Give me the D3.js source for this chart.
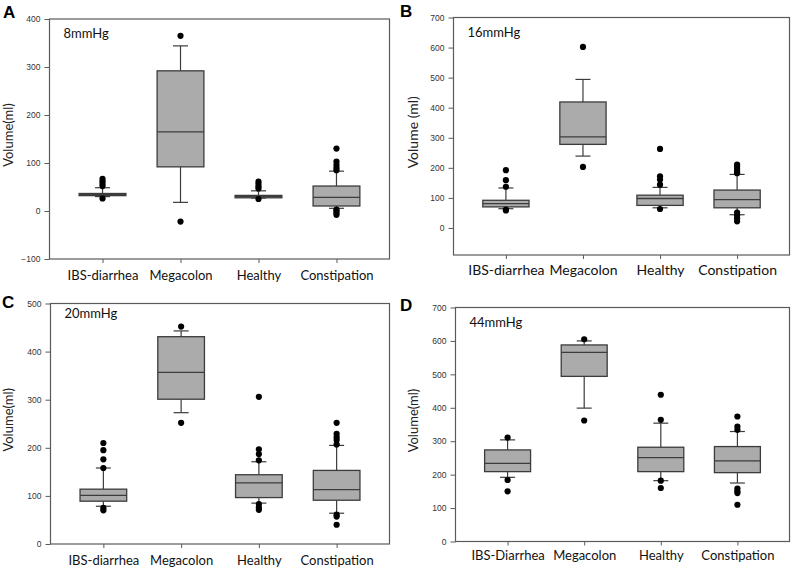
<!DOCTYPE html>
<html>
<head>
<meta charset="utf-8">
<script src="https://cdn.jsdelivr.net/npm/d3@7"></script>
<style>
  body { margin: 0; background: #fff; }
  svg { display: block; }
</style>
</head>
<body>
<div class="vis"></div>
<script>
// categories (panel D spells "Diarrhea" with a capital)
const categories = ["IBS-diarrhea", "Megacolon", "Healthy", "Constipation"];
const categoriesD = ["IBS-Diarrhea", "Megacolon", "Healthy", "Constipation"];

// box stats per category: [lower whisker, Q1, median, Q3, upper whisker]
const statsA = [[30, 32, 34.5, 36.5, 48.5], [18, 92, 165, 292, 344], [27, 27.5, 30, 32.5, 42], [5.6, 10.4, 28.5, 52, 83]];
const statsB = [[64, 70, 81, 92, 133], [239, 278, 303, 419, 494], [67, 75, 98, 109, 135], [44, 67, 94, 126, 178]];
const statsC = [[78.5, 89, 101, 114, 158], [273, 301, 357, 431, 443], [85, 96.5, 127, 144, 171], [64, 91, 113, 153, 205]];
const statsD = [[192, 209, 234, 274, 304], [399, 494, 566, 588, 600], [182, 209, 251, 282, 354], [175, 206, 241, 284, 329]];

// outliers per category
const outliersA = [[52, 57, 62, 67, 26], [365, -22], [47, 51, 56, 61, 25], [85, 90, 96, 103, 130, 3, 0, -4, -8]];
const outliersB = [[192, 159, 137, 61, 58], [602, 203], [263, 172, 161, 144, 63], [211, 204, 196, 188, 182, 51, 41, 32, 22]];
const outliersC = [[210, 195, 176, 158, 75, 70], [452, 252], [306, 197, 187, 174, 83, 76, 71], [252, 229, 222, 216, 207, 61, 57, 40]];
const outliersD = [[311, 184, 150], [605, 362], [439, 364, 182, 160], [374, 344, 334, 158, 150, 145, 110]];

// y tick values
const ticksA = [-100, 0, 100, 200, 300, 400];
const ticksB = [0, 100, 200, 300, 400, 500, 600, 700];
const ticksC = [0, 100, 200, 300, 400, 500];
const ticksD = [0, 100, 200, 300, 400, 500, 600, 700];

const panels = [
    {letter: "A", title: "8mmHg", ylabel: "Volume(ml)", cats: categories, stats: statsA, outs: outliersA, ticks: ticksA, domain: [-100, 400],
     x: 49.5, y: 19, w: 340, h: 240, letterX: 3, letterY: 18, ylabX: 13, catSize: 13, catPad: 8},
    {letter: "B", title: "16mmHg", ylabel: "Volume (ml)", cats: categories, stats: statsB, outs: outliersB, ticks: ticksB, domain: [-90, 700],
     x: 453.5, y: 17.5, w: 336, h: 237.5, letterX: 400, letterY: 17, ylabX: 418, catSize: 14, catPad: 6},
    {letter: "C", title: "20mmHg", ylabel: "Volume(ml)", cats: categories, stats: statsC, outs: outliersC, ticks: ticksC, domain: [0, 500],
     x: 50.5, y: 303.5, w: 339, h: 240.5, letterX: 2, letterY: 308, ylabX: 13, catSize: 13, catPad: 8},
    {letter: "D", title: "44mmHg", ylabel: "Volume(ml)", cats: categoriesD, stats: statsD, outs: outliersD, ticks: ticksD, domain: [0, 700],
     x: 455.5, y: 307.5, w: 334, h: 234, letterX: 400, letterY: 311, ylabX: 418, catSize: 13, catPad: 5}
];

const svg = d3.select('.vis').append('svg')
    .attr('width', 800)
    .attr('height', 569);

const frameColor = "#5a5a5a";
const boxStroke = "#3c3c3c";
const boxFill = "#ababab";

panels.forEach(p => {
    // panel letter
    svg.append("text")
        .attr("x", p.letterX)
        .attr("y", p.letterY)
        .style("font-family", "'Liberation Sans', Arial, sans-serif")
        .style("font-weight", "bold")
        .style("font-size", "17px")
        .text(p.letter);

    // y label
    svg.append("text")
        .attr("transform", "translate(" + p.ylabX + "," + (p.y + p.h / 2 - 4) + ") rotate(-90)")
        .attr("text-anchor", "middle")
        .style("font-family", "Lato, sans-serif")
        .style("font-size", p.ylabel.length > 10 ? "14px" : "13px")
        .style("fill", "#222")
        .text(p.ylabel);

    const g = svg.append("g")
        .attr("transform", "translate(" + p.x + "," + p.y + ")");

    const x = d3.scalePoint()
        .domain(p.cats)
        .range([0, p.w])
        .padding(0.68);

    const y = d3.scaleLinear()
        .domain(p.domain)
        .range([p.h, 0]);

    const bw = x.step() * 0.6;
    const cw = 15;

    // y axis
    const ya = g.append("g")
        .call(d3.axisLeft(y).tickValues(p.ticks).tickSize(5).tickPadding(4));
    ya.select(".domain").remove();
    ya.selectAll("line").attr("stroke", frameColor);
    ya.selectAll("text")
        .style("font-family", "'Liberation Sans', Arial, sans-serif")
        .style("font-size", "8.5px")
        .style("fill", "#333");

    // x axis
    const xa = g.append("g")
        .attr("transform", "translate(0," + p.h + ")")
        .call(d3.axisBottom(x).tickSize(4).tickPadding(p.catPad));
    xa.select(".domain").remove();
    xa.selectAll("line").attr("stroke", frameColor);
    xa.selectAll("text")
        .style("font-family", "Lato, sans-serif")
        .style("font-size", p.catSize + "px")
        .style("fill", "#111");

    // frame
    g.append("rect")
        .attr("width", p.w)
        .attr("height", p.h)
        .attr("fill", "none")
        .attr("stroke", frameColor)
        .attr("stroke-width", 1.2);

    // pressure label
    g.append("text")
        .attr("x", 14)
        .attr("y", p.letter === "C" ? 14 : 19)
        .style("font-family", "Lato, sans-serif")
        .style("font-size", "13px")
        .style("fill", "#111")
        .text(p.title);

    p.cats.forEach((c, i) => {
        const s = p.stats[i];
        const cx = x(c);
        const bg = g.append("g");

        // whiskers
        bg.append("line")
            .attr("x1", cx).attr("x2", cx)
            .attr("y1", y(s[0])).attr("y2", y(s[1]))
            .attr("stroke", boxStroke).attr("stroke-width", 1.2);
        bg.append("line")
            .attr("x1", cx).attr("x2", cx)
            .attr("y1", y(s[3])).attr("y2", y(s[4]))
            .attr("stroke", boxStroke).attr("stroke-width", 1.2);
        // caps
        [s[0], s[4]].forEach(v => {
            bg.append("line")
                .attr("x1", cx - cw / 2).attr("x2", cx + cw / 2)
                .attr("y1", y(v)).attr("y2", y(v))
                .attr("stroke", boxStroke).attr("stroke-width", 1.2);
        });
        // box
        bg.append("rect")
            .attr("x", cx - bw / 2)
            .attr("y", y(s[3]))
            .attr("width", bw)
            .attr("height", Math.max(y(s[1]) - y(s[3]), 0))
            .attr("fill", boxFill)
            .attr("stroke", boxStroke)
            .attr("stroke-width", 1.3);
        // median
        bg.append("line")
            .attr("x1", cx - bw / 2).attr("x2", cx + bw / 2)
            .attr("y1", y(s[2])).attr("y2", y(s[2]))
            .attr("stroke", boxStroke).attr("stroke-width", 1.3);

        // outliers
        bg.selectAll("circle")
            .data(p.outs[i])
            .enter().append("circle")
            .attr("cx", cx)
            .attr("cy", d => y(d))
            .attr("r", 3.1)
            .attr("fill", "#000");
    });
});
</script>
</body>
</html>
